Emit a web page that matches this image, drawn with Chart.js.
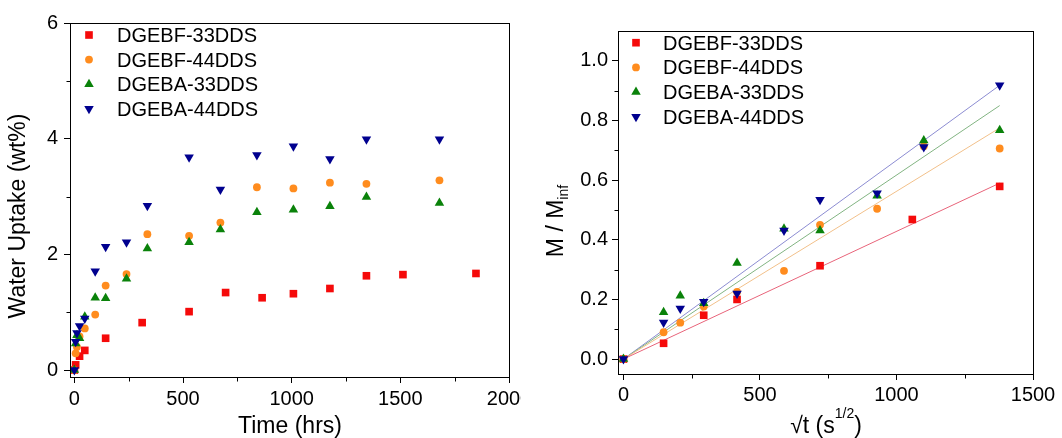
<!DOCTYPE html>
<html>
<head>
<meta charset="utf-8">
<script src="https://cdn.jsdelivr.net/npm/chart.js@4.4.1/dist/chart.umd.min.js"></script>
<style>
  html, body { margin: 0; padding: 0; background: #fff; }
  #wrap { position: relative; width: 1062px; height: 438px; overflow: hidden; background: #fff; }
  #left { position: absolute; left: 0; top: 0; width: 521px; height: 438px; }
  #right { position: absolute; left: 530px; top: 0; width: 532px; height: 438px; }
</style>
</head>
<body>
<div id="wrap">
  <canvas id="left" width="521" height="438"></canvas>
  <canvas id="right" width="532" height="438"></canvas>
</div>
<script>
const FONT = "'Liberation Sans', Arial, sans-serif";

const seriesNames = ["DGEBF-33DDS", "DGEBF-44DDS", "DGEBA-33DDS", "DGEBA-44DDS"];

// Left panel: water uptake (wt%) vs time (hrs)
const hoursRed = [0, 6, 24, 48, 144, 312, 528, 696, 864, 1008, 1176, 1344, 1512, 1848];
const hoursOther = [0, 6, 12, 24, 48, 96, 144, 240, 336, 528, 672, 840, 1008, 1176, 1344, 1680];
const uptakeBF33 = [0, 0.09, 0.24, 0.34, 0.55, 0.82, 1.01, 1.34, 1.25, 1.32, 1.41, 1.63, 1.65, 1.67];
const uptakeBF44 = [0, 0.29, 0.40, 0.58, 0.72, 0.96, 1.46, 1.66, 2.35, 2.32, 2.55, 3.16, 3.14, 3.24, 3.22, 3.28];
const uptakeBA33 = [0, 0.46, 0.60, 0.55, 0.92, 1.25, 1.24, 1.58, 2.10, 2.21, 2.43, 2.73, 2.77, 2.83, 2.99, 2.89];
const uptakeBA44 = [0, 0.49, 0.64, 0.76, 0.89, 1.71, 2.13, 2.21, 2.84, 3.68, 3.12, 3.72, 3.87, 3.65, 3.99, 3.99];

// Right panel: M / Minf vs sqrt(t) (s^1/2)
const rootRed = [0, 147, 294, 416, 720, 1058, 1378];
const rootOther = [0, 147, 208, 294, 416, 588, 720, 929, 1100, 1378];
const ratioBF33 = [0, 0.053, 0.147, 0.200, 0.313, 0.468, 0.579];
const ratioBF44 = [0, 0.090, 0.122, 0.176, 0.225, 0.296, 0.450, 0.504, 0.714, 0.706];
const ratioBA33 = [0, 0.157, 0.212, 0.187, 0.322, 0.437, 0.431, 0.548, 0.733, 0.767];
const ratioBA44 = [0, 0.123, 0.170, 0.192, 0.220, 0.431, 0.534, 0.556, 0.711, 0.918];

// linear fits through the origin
const fitRoot = [0, 1378];
const fitBF33 = [0, 0.59];
const fitBF44 = [0, 0.775];
const fitBA33 = [0, 0.85];
const fitBA44 = [0, 0.918];

// axis ticks
const timeTicks = [0, 500, 1000, 1500, 2000];
const timeMinor = [250, 750, 1250, 1750];
const uptakeTicks = [0, 2, 4, 6];
const uptakeMinor = [1, 3, 5];
const rootTicks = [0, 500, 1000, 1500];
const rootMinor = [250, 750, 1250];
const ratioTicks = [0, 0.2, 0.4, 0.6, 0.8, 1.0];
const ratioMinor = [0.1, 0.3, 0.5, 0.7, 0.9];

// marker colours and styles
const markColors = ["#f50a0a", "#ff8c1e", "#0a820a", "#00008f"];
const lineColors = ["#e8647a", "#f2c08a", "#82b482", "#8c8cd2"];
const markStyles = [
  { pointStyle: "rect", radius: 5.4, rotation: 0 },
  { pointStyle: "circle", radius: 3.9, rotation: 0 },
  { pointStyle: "triangle", radius: 5.5, rotation: 0 },
  { pointStyle: "triangle", radius: 5.5, rotation: 180 },
];

function pairs(xs, ys) {
  return ys.map((y, i) => ({ x: xs[i], y: y }));
}

function markerSet(i, xs, ys) {
  return {
    label: seriesNames[i],
    data: pairs(xs, ys),
    backgroundColor: markColors[i],
    borderWidth: 0,
    pointStyle: markStyles[i].pointStyle,
    pointRadius: markStyles[i].radius,
    pointRotation: markStyles[i].rotation,
    pointBorderWidth: 0,
    pointHoverRadius: markStyles[i].radius,
    showLine: false,
    order: 4 - i,
  };
}

function fitSet(i, ys) {
  return {
    label: seriesNames[i] + " fit",
    isFit: true,
    data: pairs(fitRoot, ys),
    borderColor: lineColors[i],
    borderWidth: 1,
    pointRadius: 0,
    showLine: true,
    order: 10,
  };
}

function drawParts(ctx, parts, cx, baseline) {
  const widths = parts.map((p) => {
    ctx.font = p.size + "px " + FONT;
    return ctx.measureText(p.text).width;
  });
  const total = widths.reduce((a, b) => a + b, 0);
  let x = cx - total / 2;
  parts.forEach((p, i) => {
    ctx.font = p.size + "px " + FONT;
    ctx.fillText(p.text, x, baseline + (p.shift || 0));
    x += widths[i];
  });
}

// Box, minor ticks, axis titles and an inside legend, built per chart
function decorations(cfg) {
  return {
    id: "decorations",
    afterDraw(chart) {
      const { ctx, chartArea: a, scales } = chart;
      ctx.save();
      // frame around the plot
      ctx.strokeStyle = "#000";
      ctx.lineWidth = 1;
      const l = Math.round(a.left) + 0.5, r = Math.round(a.right) + 0.5;
      const t = Math.round(a.top) + 0.5, b = Math.round(a.bottom) + 0.5;
      ctx.strokeRect(l, t, r - l, b - t);
      // short minor ticks outside
      ctx.beginPath();
      cfg.xMinor.forEach((v) => {
        const px = Math.round(scales.x.getPixelForValue(v)) + 0.5;
        ctx.moveTo(px, b);
        ctx.lineTo(px, b + 4);
      });
      cfg.yMinor.forEach((v) => {
        const py = Math.round(scales.y.getPixelForValue(v)) + 0.5;
        ctx.moveTo(l, py);
        ctx.lineTo(l - 4, py);
      });
      ctx.stroke();

      // axis titles
      ctx.fillStyle = "#000";
      ctx.textAlign = "left";
      ctx.textBaseline = "alphabetic";
      drawParts(ctx, cfg.xTitle.parts, cfg.xTitle.cx, cfg.xTitle.baseline);
      ctx.save();
      ctx.translate(cfg.yTitle.baseline, cfg.yTitle.cy);
      ctx.rotate(-Math.PI / 2);
      drawParts(ctx, cfg.yTitle.parts, 0, 0);
      ctx.restore();

      // legend in the upper left of the plot
      let row = 0;
      chart.data.datasets.forEach((ds) => {
        if (ds.isFit) return;
        const y = cfg.legend.y0 + row * cfg.legend.dy;
        ctx.fillStyle = ds.backgroundColor;
        Chart.helpers.drawPoint(
          ctx,
          { pointStyle: ds.pointStyle, radius: ds.pointRadius, rotation: ds.pointRotation, borderWidth: 0 },
          cfg.legend.markX,
          y
        );
        ctx.fillStyle = "#000";
        ctx.font = "20px " + FONT;
        ctx.fillText(ds.label, cfg.legend.textX, y + 7);
        row++;
      });
      ctx.restore();
    },
  };
}

function makeScales(xr, yr) {
  const axis = (r, isX) => ({
    type: "linear",
    min: r.min,
    max: r.max,
    afterBuildTicks: (s) => {
      s.ticks = r.ticks.map((v) => ({ value: v }));
    },
    afterFit: (s) => {
      if (isX) {
        s.height = r.size;
        s.paddingLeft = 0;
        s.paddingRight = 0;
      } else {
        s.width = r.size;
        s.paddingTop = 0;
        s.paddingBottom = 0;
      }
    },
    grid: {
      drawOnChartArea: false,
      drawTicks: true,
      tickLength: 6,
      tickColor: "#000",
      tickWidth: 1,
    },
    border: { display: true, color: "#000", width: 1 },
    ticks: {
      color: "#000",
      font: { size: 20, family: FONT },
      padding: r.pad,
      maxRotation: 0,
      autoSkip: false,
      callback: r.fmt,
    },
  });
  return { x: axis(xr, true), y: axis(yr, false) };
}

function baseOptions(padding, scales) {
  return {
    responsive: false,
    animation: false,
    devicePixelRatio: 1,
    layout: { padding: padding },
    scales: scales,
    plugins: { legend: { display: false }, tooltip: { enabled: false } },
  };
}

Chart.defaults.font.family = FONT;

// Left chart
new Chart(document.getElementById("left").getContext("2d"), {
  type: "scatter",
  data: {
    datasets: [
      markerSet(0, hoursRed, uptakeBF33),
      markerSet(1, hoursOther, uptakeBF44),
      markerSet(2, hoursOther, uptakeBA33),
      markerSet(3, hoursOther, uptakeBA44),
    ],
  },
  options: baseOptions(
    { left: 0, top: 23, right: 12, bottom: 0 },
    makeScales(
      { min: -20, max: 2000, ticks: timeTicks, size: 61, pad: 4, fmt: (v) => String(v) },
      { min: -0.12, max: 6, ticks: uptakeTicks, size: 70, pad: 6, fmt: (v) => String(v) }
    )
  ),
  plugins: [
    decorations({
      xMinor: timeMinor,
      yMinor: uptakeMinor,
      xTitle: { parts: [{ text: "Time (hrs)", size: 23 }], cx: 290, baseline: 433 },
      yTitle: { parts: [{ text: "Water Uptake (wt%)", size: 23 }], baseline: 25, cy: 216 },
      legend: { markX: 89, textX: 117, y0: 35, dy: 24.6 },
    }),
  ],
});

// Right chart
new Chart(document.getElementById("right").getContext("2d"), {
  type: "scatter",
  data: {
    datasets: [
      markerSet(0, rootRed, ratioBF33),
      markerSet(1, rootOther, ratioBF44),
      markerSet(2, rootOther, ratioBA33),
      markerSet(3, rootOther, ratioBA44),
      fitSet(0, fitBF33),
      fitSet(1, fitBF44),
      fitSet(2, fitBA33),
      fitSet(3, fitBA44),
    ],
  },
  options: baseOptions(
    { left: 0, top: 31, right: 29, bottom: 0 },
    makeScales(
      { min: -20, max: 1500, ticks: rootTicks, size: 64, pad: 3, fmt: (v) => String(v) },
      { min: -0.05, max: 1.1, ticks: ratioTicks, size: 88, pad: 4, fmt: (v) => v.toFixed(1) }
    )
  ),
  plugins: [
    decorations({
      xMinor: rootMinor,
      yMinor: ratioMinor,
      xTitle: {
        parts: [
          { text: "\u221At (s", size: 23 },
          { text: "1/2", size: 14, shift: -15 },
          { text: ")", size: 23 },
        ],
        cx: 296,
        baseline: 433,
      },
      yTitle: {
        parts: [
          { text: "M / M", size: 23 },
          { text: "inf", size: 14, shift: 5 },
        ],
        baseline: 33,
        cy: 221,
      },
      legend: { markX: 106, textX: 133, y0: 42.7, dy: 24.7 },
    }),
  ],
});
</script>
</body>
</html>
